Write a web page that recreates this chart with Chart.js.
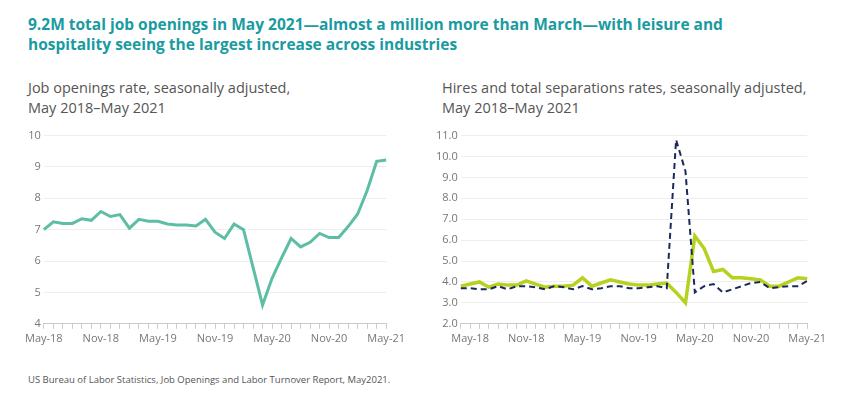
<!DOCTYPE html>
<html>
<head>
<meta charset="utf-8">
<script src="https://cdn.jsdelivr.net/npm/chart.js@4"></script>
<style>
  body { margin: 0; width: 844px; height: 400px; background: #fff; font-family: "Open Sans", sans-serif; position: relative; overflow: hidden; }
  #titulo { position: absolute; left: 28px; top: 14px; width: 800px; color: #1a9ba1; font-weight: bold; font-size: 15.5px; line-height: 20px; }
  .sub { position: absolute; top: 78px; color: #555; font-size: 14.5px; line-height: 20px; }
  #fuente { position: absolute; left: 28px; top: 373px; color: #555; font-size: 9.5px; }
  .caja { position: absolute; top: 126px; height: 222px; }
</style>
</head>
<body>
<div id="titulo">9.2M total job openings in May 2021—almost a million more than March—with leisure and<br>hospitality seeing the largest increase across industries</div>
<div class="sub" style="left:28px">Job openings rate, seasonally adjusted,<br>May 2018–May 2021</div>
<div class="sub" style="left:442px">Hires and total separations rates, seasonally adjusted,<br>May 2018–May 2021</div>
<div class="caja" style="left:22px;width:386px"><canvas id="grafica"></canvas></div>
<div class="caja" style="left:433px;width:396px"><canvas id="graficaRotacion"></canvas></div>
<div id="fuente">US Bureau of Labor Statistics, Job Openings and Labor Turnover Report, May2021.</div>
<script>
// meses May-18 .. May-21 (grafica izquierda)
let meses = ["May-18","Jun-18","Jul-18","Aug-18","Sep-18","Oct-18","Nov-18","Dec-18",
  "Jan-19","Feb-19","Mar-19","Apr-19","May-19","Jun-19","Jul-19","Aug-19","Sep-19","Oct-19","Nov-19","Dec-19",
  "Jan-20","Feb-20","Mar-20","Apr-20","May-20","Jun-20","Jul-20","Aug-20","Sep-20","Oct-20","Nov-20","Dec-20",
  "Jan-21","Feb-21","Mar-21","Apr-21","May-21"];
let vacantes = [7.0,7.25,7.2,7.2,7.35,7.3,7.58,7.42,7.48,7.05,7.33,7.27,7.27,7.18,7.15,7.15,7.12,7.33,6.92,6.72,
  7.18,7.0,5.8,4.6,5.45,6.1,6.72,6.45,6.6,6.88,6.75,6.75,7.1,7.5,8.25,9.18,9.22];

// grafica derecha empieza en Apr-18
let mesesRot = ["Apr-18"].concat(meses);
let contrataciones = [3.8,3.9,4.0,3.75,3.9,3.85,3.85,4.05,3.9,
  3.75,3.8,3.8,3.85,4.2,3.8,3.95,4.1,4.0,3.9,3.85,3.85,
  3.9,3.95,3.5,3.0,6.2,5.6,4.5,4.6,4.2,4.2,4.15,4.1,
  3.8,3.8,4.0,4.2,4.15];
let separaciones = [3.7,3.7,3.65,3.65,3.8,3.65,3.8,3.8,3.75,
  3.65,3.8,3.75,3.65,3.8,3.65,3.7,3.8,3.8,3.7,3.7,3.75,
  3.8,3.7,10.8,9.3,3.5,3.8,3.9,3.5,3.65,3.8,3.95,4.0,
  3.7,3.75,3.8,3.8,4.05];

const gris = '#777';
function ejeX(lista) {
  return {
    grid: { display: true, drawOnChartArea: false, drawTicks: true, tickLength: 5, color: '#ccc' },
    border: { color: '#ccc' },
    ticks: {
      autoSkip: false, maxRotation: 0, color: gris, font: { size: 11, family: 'Open Sans' },
      callback: (v, i) => lista[i].startsWith('May') || lista[i].startsWith('Nov') ? lista[i] : ''
    }
  };
}

new Chart(document.getElementById('grafica'), {
  type: 'line',
  data: { labels: meses, datasets: [{ data: vacantes, borderColor: '#5dbea5', borderWidth: 3, pointRadius: 0, tension: 0 }] },
  options: {
    responsive: true, maintainAspectRatio: false, animation: false,
    layout: { padding: { right: 10 } },
    scales: {
      x: ejeX(meses),
      y: { min: 4, max: 10, ticks: { stepSize: 1, color: gris, font: { size: 11, family: 'Open Sans' } },
           grid: { color: '#eee', drawTicks: false }, border: { display: false } }
    },
    plugins: { legend: { display: false }, tooltip: { enabled: false } }
  }
});

new Chart(document.getElementById('graficaRotacion'), {
  type: 'line',
  data: { labels: mesesRot, datasets: [
    { label: 'Separations', data: separaciones, borderColor: '#1b2a5c', borderWidth: 2, borderDash: [6, 4], pointRadius: 0, tension: 0 },
    { label: 'Hires', data: contrataciones, borderColor: '#b7d11f', borderWidth: 3.5, pointRadius: 0, tension: 0 }
  ] },
  options: {
    responsive: true, maintainAspectRatio: false, animation: false,
    layout: { padding: { right: 10 } },
    scales: {
      x: ejeX(mesesRot),
      y: { min: 2, max: 11, ticks: { stepSize: 1, color: gris, font: { size: 11, family: 'Open Sans' }, callback: v => v.toFixed(1) },
           grid: { color: '#eee', drawTicks: false }, border: { display: false } }
    },
    plugins: { legend: { display: false }, tooltip: { enabled: false } }
  }
});
</script>
</body>
</html>
